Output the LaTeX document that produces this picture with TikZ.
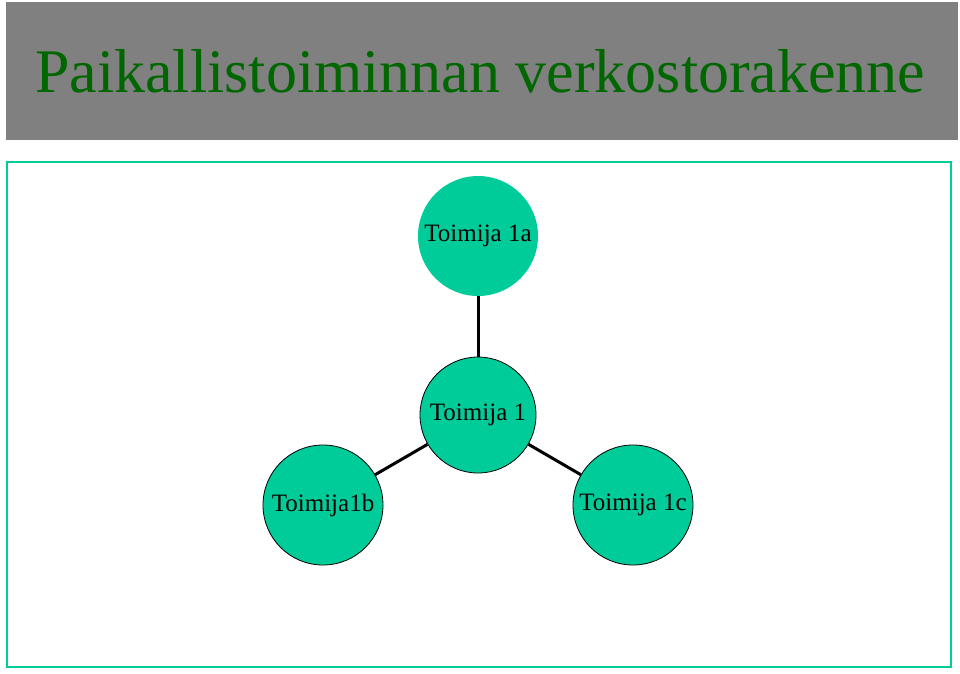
\documentclass[tikz,border=0pt]{standalone}
\usepackage{fontspec}
\setmainfont{Liberation Serif}
\definecolor{nodeg}{HTML}{00CC99}
\definecolor{titleg}{HTML}{006600}
\begin{document}
\begin{tikzpicture}[x=1pt,y=-1pt,
  actor/.style={circle,fill=nodeg,minimum size=120pt,inner sep=0pt,font=\fontsize{25}{25}\selectfont},
  outl/.style={draw=black,line width=0.8pt},
  link/.style={line width=3pt}]
\useasboundingbox (0,0) rectangle (960,673);
\fill[fill=gray!100!black,fill=black!50] (6,2) rectangle (958,140);
\node[anchor=base west,text=titleg,font=\fontsize{62}{62}\selectfont,inner sep=0pt] (title) at (35,92) {Paikallistoiminnan verkostorakenne};
\draw[nodeg,line width=1.2pt] (7,162) rectangle (951,667);
\node[actor] (a) at (478,236) {Toimija 1a};
\node[actor,outl,minimum size=116pt] (c) at (478,415) {Toimija 1};
\node[actor,outl] (b) at (323,505) {Toimija1b};
\node[actor,outl] (d) at (633,505) {Toimija 1c};
\draw[link] (a) -- (c);
\draw[link] (c) -- (b);
\draw[link] (c) -- (d);
\end{tikzpicture}
\end{document}
